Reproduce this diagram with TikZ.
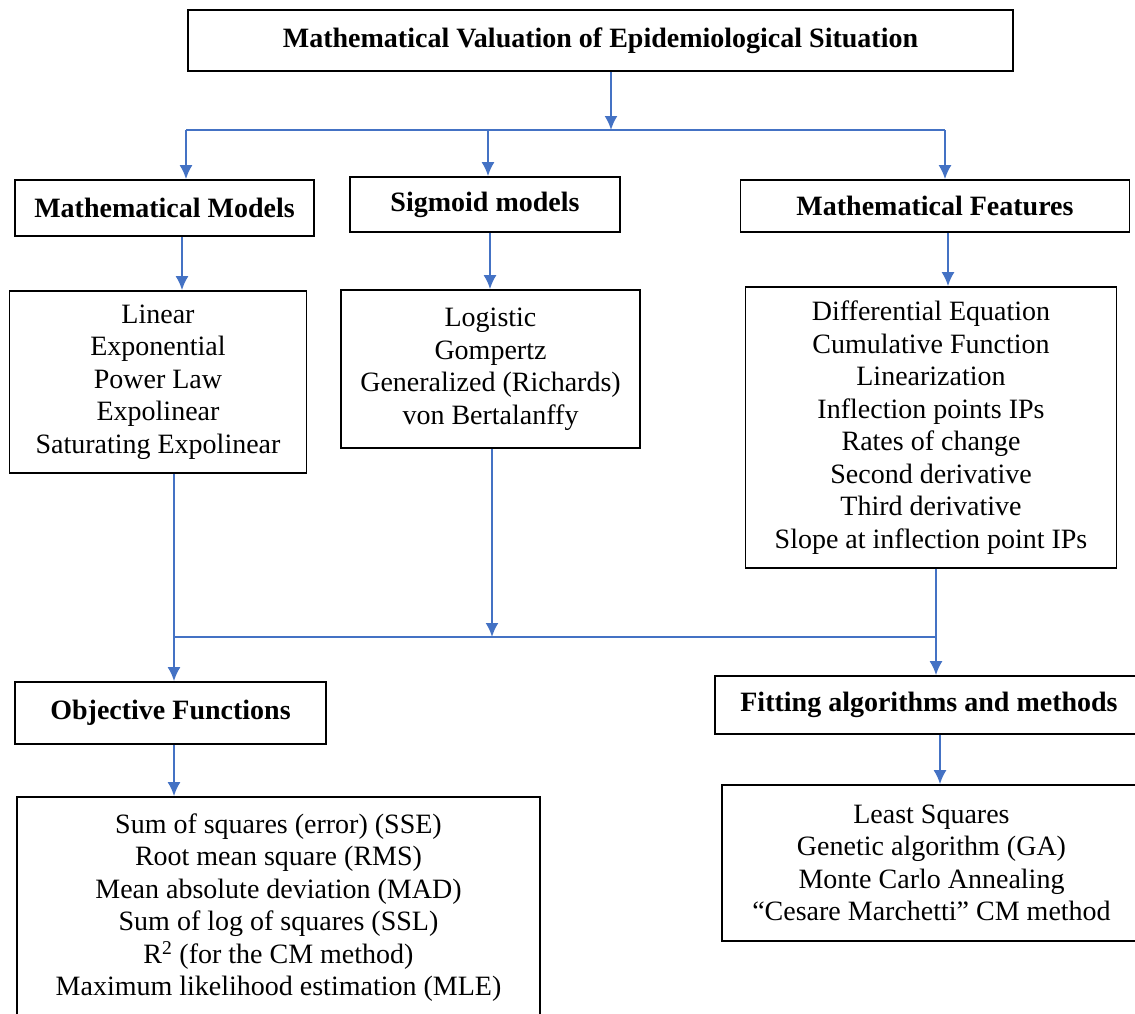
\documentclass[tikz,border=0pt]{standalone}
\usepackage{fontspec}
\setmainfont{Liberation Serif}
\usetikzlibrary{arrows.meta}
\definecolor{connblue}{HTML}{4472C4}
\begin{document}
\begin{tikzpicture}[x=1pt,y=-1pt,
  box/.style={draw=black,line width=1.6pt,inner sep=0pt,align=center,
    font=\fontsize{28}{32.5}\selectfont},
  head/.style={box,font=\fontsize{28}{32.5}\selectfont\bfseries},
  conn/.style={draw=connblue,line width=2.2pt},
  bar/.style={draw=connblue,line width=2.8pt},
  arr/.style={conn,-{Latex[length=14pt,width=13pt]}}]
\useasboundingbox (0,0) rectangle (1135,1013);
% header boxes
\node[head,minimum width=825pt,minimum height=61pt] (top) at (600.5,40.5) {Mathematical Valuation of Epidemiological Situation};
\node[head,minimum width=299pt,minimum height=56pt] (mm) at (164.5,208) {Mathematical Models};
\node[head,minimum width=270pt,minimum height=55pt] (sm) at (485,204.5) {Sigmoid models};
\node[head,minimum width=389pt,minimum height=52pt] (mf) at (935,206) {Mathematical Features};
% list boxes
\node[box,minimum width=297pt,minimum height=182pt] (lm) at (158,382) {Linear\\Exponential\\Power Law\\Expolinear\\Saturating Expolinear};
\node[box,minimum width=299pt,minimum height=158pt] (ls) at (490.5,369) {Logistic\\Gompertz\\Generalized (Richards)\\von Bertalanffy};
\node[box,minimum width=371pt,minimum height=281pt] (lf) at (931,427.5) {Differential Equation\\Cumulative Function\\Linearization\\Inflection points IPs\\Rates of change\\Second derivative\\Third derivative\\Slope at inflection point IPs};
% lower boxes
\node[head,minimum width=311pt,minimum height=62pt] (of) at (170.5,713) {Objective Functions};
\node[head,minimum width=428pt,minimum height=58pt] (fa) at (929,705) {Fitting algorithms and methods};
\node[box,minimum width=523pt,minimum height=221pt] (lo) at (278.5,907.5) {Sum of squares (error) (SSE)\\Root mean square (RMS)\\Mean absolute deviation (MAD)\\Sum of log of squares (SSL)\\R\textsuperscript{2} (for the CM method)\\Maximum likelihood estimation (MLE)};
\node[box,minimum width=419pt,minimum height=156pt] (lfa) at (931.5,863) {Least Squares\\Genetic algorithm (GA)\\Monte Carlo Annealing\\“Cesare Marchetti” CM method};
% top distribution
\coordinate (ht) at (611,130);
\coordinate (ha) at (186,130);
\coordinate (hs) at (488,130);
\coordinate (hb) at (945,130);
\draw[arr] (ht |- top.south) -- (ht);
\draw[bar] (ha) -- (hb);
\draw[arr] (ha) -- (ha |- mm.north);
\draw[arr] (hs) -- (hs |- sm.north);
\draw[arr] (hb) -- (hb |- mf.north);
% head to list
\coordinate (xa) at (182,0);
\coordinate (xs) at (490,0);
\coordinate (xf) at (948,0);
\draw[arr] (xa |- mm.south) -- (xa |- lm.north);
\draw[arr] (xs |- sm.south) -- (xs |- ls.north);
\draw[arr] (xf |- mf.south) -- (xf |- lf.north);
% lower collection
\coordinate (la) at (174,637);
\coordinate (lsm) at (492,637);
\coordinate (lb) at (936,637);
\draw[bar] (la) -- (lb);
\draw[arr] (la |- lm.south) -- (la |- of.north);
\draw[arr] (lsm |- ls.south) -- (lsm);
\draw[arr] (lb |- lf.south) -- (lb |- fa.north);
% to lists
\coordinate (xo) at (174,0);
\coordinate (xfa) at (940,0);
\draw[arr] (xo |- of.south) -- (xo |- lo.north);
\draw[arr] (xfa |- fa.south) -- (xfa |- lfa.north);
\end{tikzpicture}
\end{document}
